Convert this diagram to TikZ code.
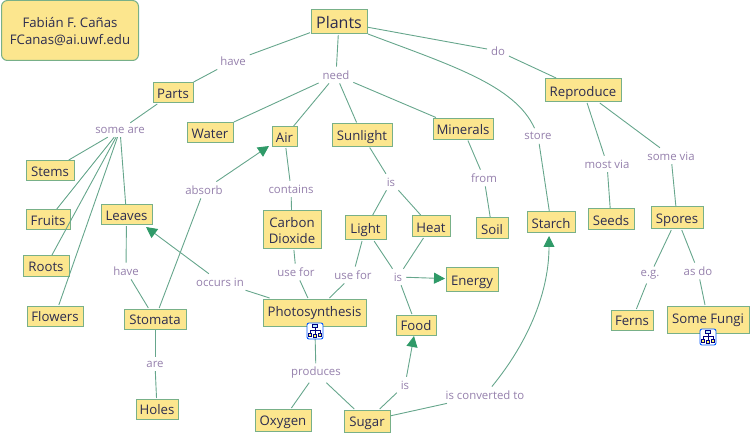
\documentclass[tikz,border=0pt]{standalone}
\usepackage{fontspec}
\setmainfont{Open Sans}
\usepackage{xcolor}
\usetikzlibrary{arrows.meta}

\definecolor{conceptfill}{HTML}{FCE68E}
\definecolor{conceptline}{HTML}{78B088}
\definecolor{linkline}{HTML}{66A68C}
\definecolor{linktext}{HTML}{9580AC}
\definecolor{concepttext}{HTML}{2C2C50}
\definecolor{tipgreen}{HTML}{2F9A68}

\tikzset{
  concept/.style={draw=conceptline,line width=1pt,fill=conceptfill,text=concepttext,
    align=center,inner sep=0pt,outer sep=1pt,text height=11.5pt,text depth=0pt,
    font=\fontsize{13.2}{16.5}\selectfont},
  linkname/.style={text=linktext,inner sep=4pt,outer sep=0pt,font=\fontsize{11.4}{13}\selectfont},
  link/.style={draw=linkline,line width=0.9pt},
  linkarrow/.style={link,-{Triangle[length=11pt,width=11pt,color=tipgreen]}},
  treeicon/.pic={
    \draw[draw=blue!65!cyan,line width=0.9pt,fill=white,rounded corners=2pt] (-8,-8) rectangle (8,8);
    \draw[draw=blue!50!black,line width=0.7pt,fill=cyan!25] (-2.5,-6.5) rectangle (2.5,-3.5);
    \draw[draw=blue!50!black,line width=0.7pt] (0,-3.5) -- (0,3) (-5,2) -- (-5,-0.5) -- (5,-0.5) -- (5,2);
    \foreach \i/\j in {-5/2, 0/3, 5/2} {
      \draw[draw=blue!50!black,line width=0.7pt,fill=yellow!60] (\i-1.8,\j) rectangle (\i+1.8,\j+3.5);
    }
  }
}

\begin{document}
\begin{tikzpicture}[x=1pt,y=-1pt]
  \useasboundingbox (0,0) rectangle (751,435);

  % author box
  \node[concept,text height=28pt,rounded corners=6pt,minimum width=137pt,minimum height=60pt] (author) at (70,30.5)
    {Fabián F. Cañas\\FCanas@ai.uwf.edu};

  % concepts
  \foreach \n/\x/\y/\w/\h/\t in {
    parts/173/93/40/20/Parts, water/210/133/46/20/Water, air/284.5/137/25/20/Air,
    sunlight/362/135/60/23/Sunlight, minerals/463/129/60/21/Minerals,
    reproduce/583/90.5/76/23/Reproduce, stems/50/171/48/20/Stems,
    fruits/48/220/44/20/Fruits, leaves/126.5/215/51/20/Leaves, light/365.5/228/41/24/Light,
    heat/431/226.5/38/21/Heat, soil/492/228.5/32/21/Soil, starch/551/222.5/48/21/Starch,
    seeds/611/219.5/46/21/Seeds, spores/677/218/52/22/Spores, energy/472/279.5/52/23/Energy,
    food/416/325/40/20/Food, ferns/632/320/42/20/Ferns,
    roots/46/266/46/20/Roots, flowers/55/316/56/20/Flowers, stomata/155/319/62/20/Stomata,
    holes/157/409/42/20/Holes,
    oxygen/283/420/56/22/Oxygen, sugar/367/421/46/22/Sugar%
  } {
    \node[concept,minimum width=\w pt,minimum height=\h pt] (\n) at (\x,\y) {\t};
  }
  \node[concept,text height=14pt,minimum width=56pt,minimum height=24pt,font=\fontsize{16}{18}\selectfont] (plants) at (339,22) {Plants};
  \node[concept,text height=28pt,minimum width=58pt,minimum height=38pt] (carbon) at (292,230) {Carbon\\Dioxide};
  \node[concept,text height=8.2pt,minimum width=103pt,minimum height=27pt] (photo) at (314.5,312.5) {Photosynthesis};
  \node[concept,text height=8.2pt,minimum width=82pt,minimum height=27pt] (fungi) at (708,319.5) {Some Fungi};

  % link names
  \foreach \n/\x/\y/\t in {
    lhave/233/61/have, lneed/336/75/need, lsomeare/120/130/some are, ldo/498/51/do,
    lstore/538/136/store, lmost/607/164/most via, lsomevia/671/156/some via,
    lfrom/484/178/from, lis/391/182/is, lcontains/291/189/contains, labsorb/204/190/absorb,
    lhavetwo/126/271/have, lare/155/364/are, loccurs/220/282/occurs in,
    lusea/296/272/use for, luseb/353/275/use for, listwo/398/277/is, leg/650/275/e.g.,
    lasdo/698/271/as do, lproduces/316/373/produces, listhree/405/385/is,
    lconverted/485/395/is converted to%
  } {
    \node[linkname] (\n) at (\x,\y) {\t};
  }

  % plain connectors
  \foreach \a/\b in {
    plants/lhave, lhave/parts, parts/lsomeare, lsomeare/stems, lsomeare/fruits,
    lsomeare/roots, lsomeare/flowers, lsomeare/leaves, plants/lneed, lneed/water,
    lneed/air, lneed/sunlight, lneed/minerals, plants/ldo, ldo/reproduce,
    reproduce/lmost, lmost/seeds, reproduce/lsomevia, lsomevia/spores, spores/leg,
    leg/ferns, spores/lasdo, lasdo/fungi, minerals/lfrom, lfrom/soil, sunlight/lis,
    lis/light, lis/heat, air/lcontains, lcontains/carbon, carbon/lusea, lusea/photo,
    light/luseb, luseb/photo, light/listwo, heat/listwo, listwo/food, leaves/lhavetwo,
    lhavetwo/stomata, stomata/labsorb, stomata/lare, lare/holes, photo/loccurs,
    photo/lproduces, lproduces/oxygen, lproduces/sugar, sugar/listhree,
    sugar/lconverted, lstore/starch%
  } {
    \draw[link] (\a) -- (\b);
  }

  % arrows
  \draw[linkarrow] (labsorb) -- ([xshift=-2pt,yshift=2pt]air.south west);
  \draw[linkarrow] (loccurs) -- ([xshift=-7pt,yshift=-1pt]leaves.south east);
  \draw[linkarrow] (listwo) -- (energy);
  \draw[linkarrow] (listhree) -- (food);

  % curved ones
  \draw[link] ([yshift=1pt]plants.south east) .. controls (450,65) and (515,85) .. (lstore);
  \draw[linkarrow] (lconverted) .. controls (530,340) and (549,290) .. ([xshift=-2pt,yshift=-2pt]starch.south);

  % submap icons
  \pic at (315,331) {treeicon};
  \pic at (708,337) {treeicon};
\end{tikzpicture}
\end{document}
